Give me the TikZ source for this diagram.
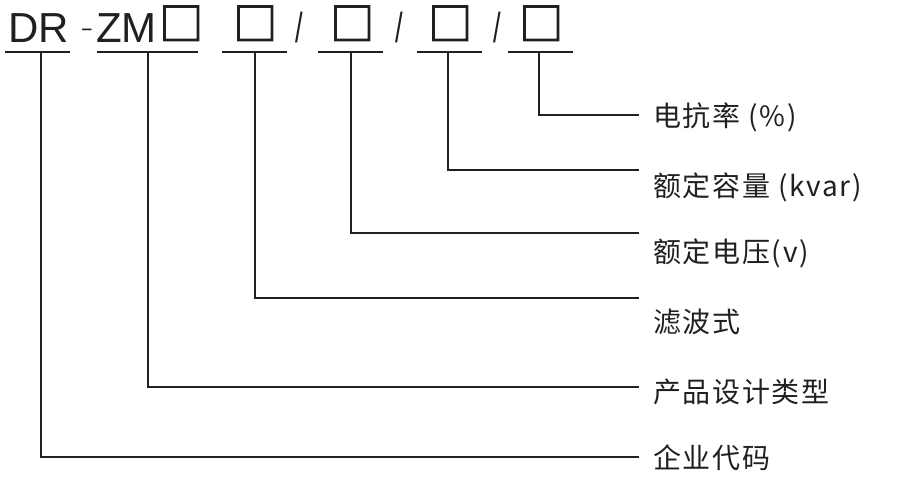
\documentclass[tikz,border=0pt]{standalone}
\usepackage{fontspec}
\setmainfont{Liberation Sans}
\newfontfamily\cjk[LetterSpace=6]{Noto Sans CJK SC}
\newfontfamily\boxfont[FakeBold=2.5]{Noto Sans CJK SC}
\usetikzlibrary{positioning}
\definecolor{ink}{HTML}{231F20}
\tikzset{
  code/.style={inner sep=0pt,anchor=base west,font=\fontsize{42}{42}\selectfont,text=ink},
  slim/.style={code,xscale=.65,transform shape},
  slot/.style={inner sep=0pt,anchor=base west,font=\boxfont\fontsize{44}{44}\selectfont,text=ink},
  lbl/.style={inner sep=0pt,anchor=west,font=\cjk\fontsize{28}{28}\selectfont,text=ink},
  wire/.style={draw=ink,line width=1.6pt},
}
\begin{document}
\begin{tikzpicture}[x=1pt,y=-1pt]
\useasboundingbox (0,0) rectangle (919,502);
% model code
\node[code] (dr) at (8,43) {DR};
\node[code,xscale=1.3,yscale=.7,transform shape,font=\fontsize{30}{30}\selectfont] (dash) at (80,35.5) {-};
\node[code] (zm) at (96,43) {ZM};
\node[slot] (b0) at (159,40) {□};
\node[slot] (b1) at (233,40) {□};
\node[slim] (s1) at (295,43) {/};
\node[slot] (b2) at (330,40) {□};
\node[slim] (s2) at (395,43) {/};
\node[slot] (b3) at (428,40) {□};
\node[slim] (s3) at (493,43) {/};
\node[slot] (b4) at (519,40) {□};
% underlines
\foreach \a/\b in {5/70,97/198,222/287,318/383,417/482,508/573}
  \draw[wire] (\a,52) -- (\b,52);
% labels
\node[lbl] (rate) at (653,117) {电抗率 (\%)};
\node[lbl] (cap) at (653,187) {额定容量 (kvar)};
\node[lbl] (volt) at (653,253) {额定电压(v)};
\node[lbl] (filt) at (653,322) {滤波式};
\node[lbl] (type) at (653,392) {产品设计类型};
\node[lbl] (firm) at (653,458) {企业代码};
% leaders
\foreach \n/\x/\y in {1/539/115,2/448/170,3/351/233,4/255/298,5/148/387,6/41/457}{
  \coordinate (u\n) at (\x,52);
  \coordinate (e\n) at (639,\y);
  \draw[wire] (u\n) |- (e\n);
}
\end{tikzpicture}
\end{document}
